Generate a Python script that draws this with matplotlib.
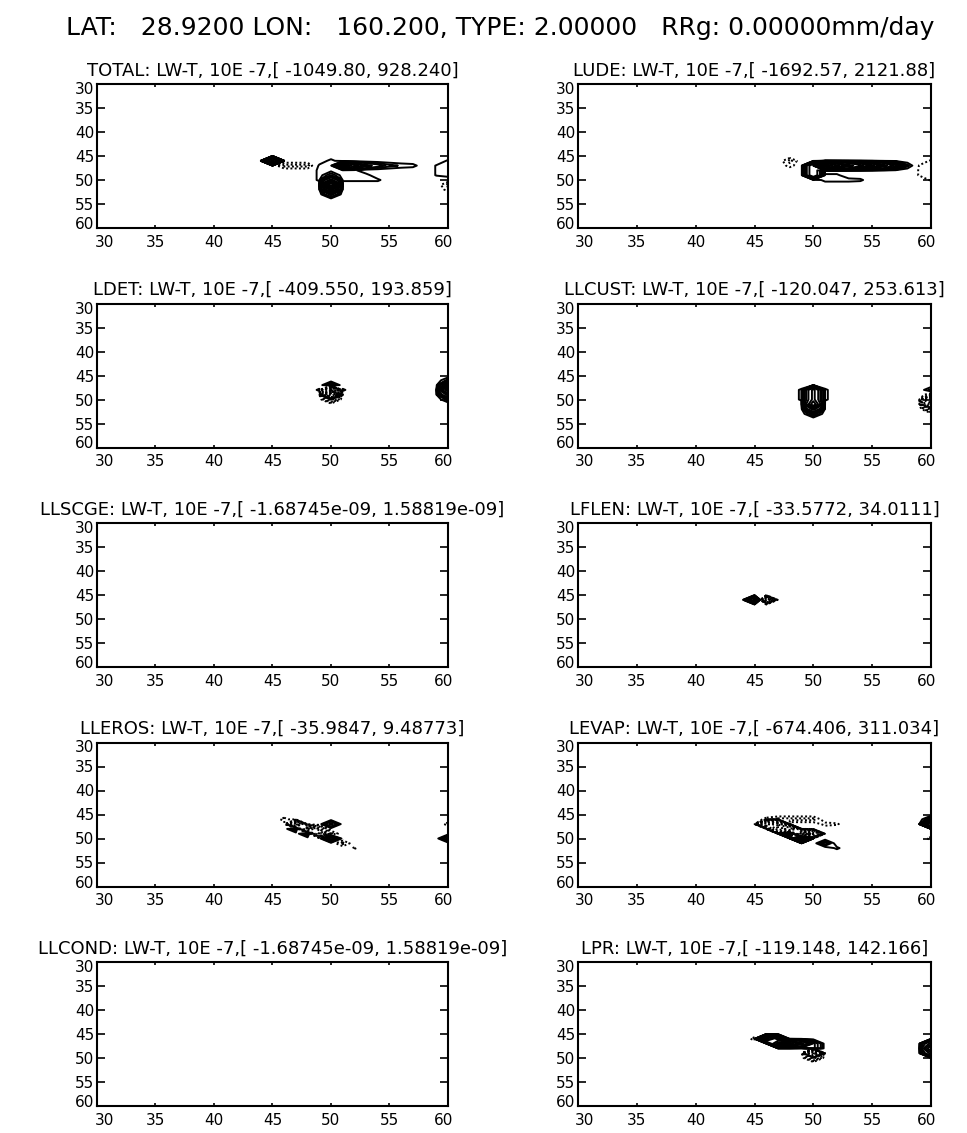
import numpy as np
import matplotlib.pyplot as plt
from matplotlib.transforms import ScaledTranslation

# lon/lat grid of the model fields (deg); a column east of 60 is clipped by the axes
lon = np.arange(42, 63, 1.0)
lat = np.arange(43, 56, 1.0)

# fixed contour levels in units of 10E-7, negatives are drawn dotted
pos_levels = [1, 2, 3, 5, 7, 10, 15, 20, 30, 50, 70, 100, 150, 200,
              300, 500, 700, 1000, 1500, 2000]
levels = sorted([-v for v in pos_levels] + pos_levels)

names = ['TOTAL', 'LUDE', 'LDET', 'LLCUST', 'LLSCGE',
         'LFLEN', 'LLEROS', 'LEVAP', 'LLCOND', 'LPR']
fmin = ['-1049.80', '-1692.57', '-409.550', '-120.047', '-1.68745e-09',
        '-33.5772', '-35.9847', '-674.406', '-1.68745e-09', '-119.148']
fmax = ['928.240', '2121.88', '193.859', '253.613', '1.58819e-09',
        '34.0111', '9.48773', '311.034', '1.58819e-09', '142.166']

# non-zero grid points (lon, lat, value), everything else is 0
total = [(45, 46, 350),
         (46, 47, -2.5), (47, 47, -2.5), (48, 47, -2.5),
         (49, 47, 1.3), (49, 48, 1.3), (50, 46, 1.5), (50, 47, 1.5),
         (50, 48, 1.5), (51, 48, 1.3),
         (49, 49, 1.3), (51, 49, 1.3), (49, 50, 1.3), (51, 50, 1.3),
         (50, 49, 4), (50, 50, 60), (50, 51, 928.24), (50, 52, 120),
         (50, 53, 6),
         (51, 47, 25), (52, 47, 12), (53, 47, 6), (54, 47, 4),
         (55, 47, 2.5), (56, 47, 1.8), (57, 47, 1.5),
         (52, 48, 1.3), (52, 49, 1.5), (53, 49, 1.5),
         (52, 50, 1.3), (53, 50, 1.3), (54, 50, 1.3),
         (59, 47, 1.1), (59, 48, 1.1), (59, 49, 1.1), (60, 46, 1.2),
         (60, 47, 1.5), (60, 48, 1.5), (60, 49, 1.5),
         (60, 51, -2.5), (60, 52, -1.5), (61, 51, -1049.80)]
lude = [(48, 46, -2.5), (48, 47, -1.5),
        (50, 47, 45), (50, 48, 45), (50, 49, 45),
        (51, 47, 2121.88), (52, 47, 1100), (53, 47, 600), (54, 47, 350),
        (55, 47, 170), (56, 47, 60), (57, 47, 25), (58, 47, 2.5),
        (51, 49, 1.3), (52, 49, 1.3), (51, 50, 1.5), (52, 50, 1.5),
        (53, 50, 1.5), (54, 50, 1.3),
        (59, 47, -1.1), (59, 48, -1.1), (59, 49, -1.1), (60, 46, -1.2),
        (60, 47, -1.5), (60, 48, -1.5), (60, 49, -1.5), (60, 50, -1.2),
        (61, 48, -1692.57)]
ldet = [(50, 47, 4), (49, 48, 1.3), (51, 48, 1.3),
        (50, 48, -40), (50, 49, -409.55), (50, 50, -6),
        (60, 46, 2.5), (60, 47, 25), (60, 48, 193.859), (60, 49, 60),
        (60, 50, 2.5)]
llcust = [(49, 48, 1.3), (51, 48, 1.3), (49, 49, 1.3), (51, 49, 1.3),
          (49, 50, 1.3), (51, 50, 1.3),
          (50, 48, 170), (50, 49, 170), (50, 50, 170), (50, 51, 253.613),
          (50, 52, 60), (50, 53, 4),
          (60, 48, 2.5), (60, 49, -2.5), (60, 50, -120.047), (60, 51, -60),
          (60, 52, -6)]
llscge = [(50, 48, -1.68745e-09), (50, 49, 1.58819e-09)]
lflen = [(45, 46, 34.0111), (46, 46, -33.5772)]
lleros = [(46, 46, -1.5), (47, 47, -35.9847), (48, 48, -25), (49, 48, -6),
          (49, 49, -17), (50, 49, -2.5), (51, 51, -2.5), (52, 52, -1.2),
          (47, 48, 4), (48, 49, 4), (50, 47, 6), (50, 50, 9.48773),
          (60, 50, 6), (60, 47, -1.5)]
levap = [(46, 46, -1.5), (47, 46, -2.5), (48, 46, -2.5), (49, 46, -2.5),
         (50, 46, -2.5), (51, 47, -1.5), (52, 47, -1.2),
         (46, 47, -120), (47, 47, -250), (47, 48, -674.406), (48, 48, -400),
         (49, 49, -350), (50, 49, -60),
         (48, 49, 120), (49, 50, 170), (51, 51, 4), (52, 52, 1.3),
         (60, 46, 4), (60, 47, 311.034), (60, 50, -1.5)]
llcond = [(50, 48, -1.68745e-09), (50, 49, 1.58819e-09)]
lpr = [(45, 46, -1.5), (46, 46, 120), (47, 47, 120), (48, 47, 120),
       (47, 46, 35), (49, 47, 60),
       (50, 47, 8), (50, 48, 8), (50, 49, -119.148), (50, 50, -6),
       (60, 47, 60), (60, 48, 142.166), (60, 49, 60)]
fields = [total, lude, ldet, llcust, llscge, lflen, lleros, levap, llcond, lpr]


def make_grid(points):
    z = np.zeros((len(lat), len(lon)))
    for x, y, v in points:
        z[np.searchsorted(lat, y), np.searchsorted(lon, x)] = v
    return z


def nudge(label, dx, dy):
    # shift a tick label by dx, dy pixels
    label.set_transform(label.get_transform() +
                        ScaledTranslation(dx / 100, dy / 100, fig.dpi_scale_trans))


W, H = 967, 1133
fig = plt.figure(figsize=(W / 100, H / 100), dpi=100)
fig.text(0.517, 1 - 28 / H,
         'LAT:   28.9200 LON:   160.200, TYPE: 2.00000   RRg: 0.00000mm/day',
         ha='center', va='center', fontsize=18)

col_left = [97, 578]
col_width = [351, 353]
row_top = [84, 303.5, 523, 742.5, 962]
ax_h = 144
styles = ['solid' if lv > 0 else (0, (1, 1.2)) for lv in levels]

for k, name in enumerate(names):
    r, c = divmod(k, 2)
    ax = fig.add_axes([col_left[c] / W, 1 - (row_top[r] + ax_h) / H,
                       col_width[c] / W, ax_h / H])
    z = make_grid(fields[k])
    if np.abs(z).max() >= min(pos_levels):
        ax.contour(lon, lat, z, levels=levels, colors='black',
                   linestyles=styles, linewidths=1.4)
    ax.set_xlim(30, 60)
    ax.set_ylim(60, 30)
    ax.set_xticks(np.arange(30, 61, 5))
    ax.set_yticks(np.arange(30, 61, 5))
    ax.tick_params(axis='x', direction='in', length=2.5, width=1.2,
                   top=True, labelsize=11, pad=5)
    ax.tick_params(axis='y', direction='in', length=5.5, width=1.2,
                   right=True, labelsize=11, pad=2)
    xt = ax.xaxis.get_major_ticks()
    nudge(xt[0].label1, 7, 0)
    nudge(xt[-1].label1, -4.5, 0)
    yt = ax.yaxis.get_major_ticks()
    nudge(yt[0].label1, 0, -4)
    nudge(yt[-1].label1, 0, 5)
    for s in ax.spines.values():
        s.set_linewidth(1.5)
    ax.set_title(f'{name}: LW-T, 10E -7,[ {fmin[k]}, {fmax[k]}]',
                 fontsize=13, pad=6)

fig.savefig('out.png', dpi=100)
